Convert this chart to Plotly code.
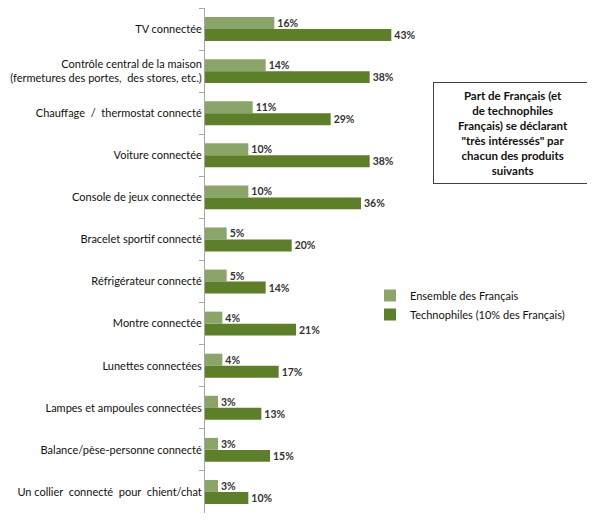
import plotly.graph_objects as go

categories = [
    "TV connectée",
    "Contrôle central de la maison<br>(fermetures des portes,  des stores, etc.)",
    "Chauffage  /  thermostat connecté",
    "Voiture connectée",
    "Console de jeux connectée",
    "Bracelet sportif connecté",
    "Réfrigérateur connecté",
    "Montre connectée",
    "Lunettes connectées",
    "Lampes et ampoules connectées",
    "Balance/pèse-personne connecté",
    "Un collier  connecté  pour  chient/chat",
]
ensemble = [16, 14, 11, 10, 10, 5, 5, 4, 4, 3, 3, 3]
technophiles = [43, 38, 29, 38, 36, 20, 14, 21, 17, 13, 15, 10]
series_names = ["Ensemble des Français", "Technophiles (10% des Français)"]
note_text = ("Part de Français (et<br>de technophiles<br>Français) se déclarant<br>"
             "\"très intéressés\" par<br>chacun des produits<br>suivants")

FONT = "Lato"
light = "#8BA46A"
dark = "#5E7F2A"

fig = go.Figure()
for name, vals, col in [(series_names[0], ensemble, light), (series_names[1], technophiles, dark)]:
    fig.add_trace(go.Bar(
        y=categories, x=vals, orientation="h", name=name,
        marker=dict(color=col, line=dict(width=0)),
        text=[f"<b>{v}%</b>" for v in vals], textposition="outside",
        textfont=dict(family=FONT, size=10.5, color="#333333"),
        cliponaxis=False,
    ))

# page body has an 8px margin; figure coordinates are screen coordinates minus 8
W, H = 587, 514
L, T, B = 197, 0, 9
PH = H - T - B
PW = W - L

fig.update_layout(
    width=W, height=H,
    margin=dict(l=L, r=0, t=T, b=B, autoexpand=False),
    paper_bgcolor="white", plot_bgcolor="white",
    barmode="group", bargap=0.43, bargroupgap=0,
    font=dict(family=FONT, size=11, color="#111111"),
    xaxis=dict(range=[0, 90], visible=False, showgrid=False, zeroline=False, automargin=False),
    yaxis=dict(autorange="reversed", showline=True, linecolor="#A6A6A6", linewidth=1,
               ticks="outside", tickson="boundaries", ticklen=5, tickcolor="#A6A6A6",
               tickfont=dict(family=FONT, size=11, color="#111111"),
               showgrid=False, zeroline=False, automargin=False),
    legend=dict(x=(362 - L) / PW, y=1 - (273 - T) / PH, xanchor="left", yanchor="top",
                font=dict(family=FONT, size=11, color="#111111"),
                bgcolor="rgba(0,0,0,0)", itemwidth=30, tracegroupgap=4),
    showlegend=True,
    annotations=[dict(
        x=(505 - L) / PW, y=1 - (125 - T) / PH, xref="paper", yref="paper",
        xanchor="center", yanchor="middle",
        text=f"<b>{note_text}</b>", showarrow=False, align="center",
        font=dict(family=FONT, size=11.5, color="#111111"),
        bordercolor="#404040", borderwidth=1, borderpad=6, width=146,
        bgcolor="white",
    )],
)

fig.write_html("out.html")
